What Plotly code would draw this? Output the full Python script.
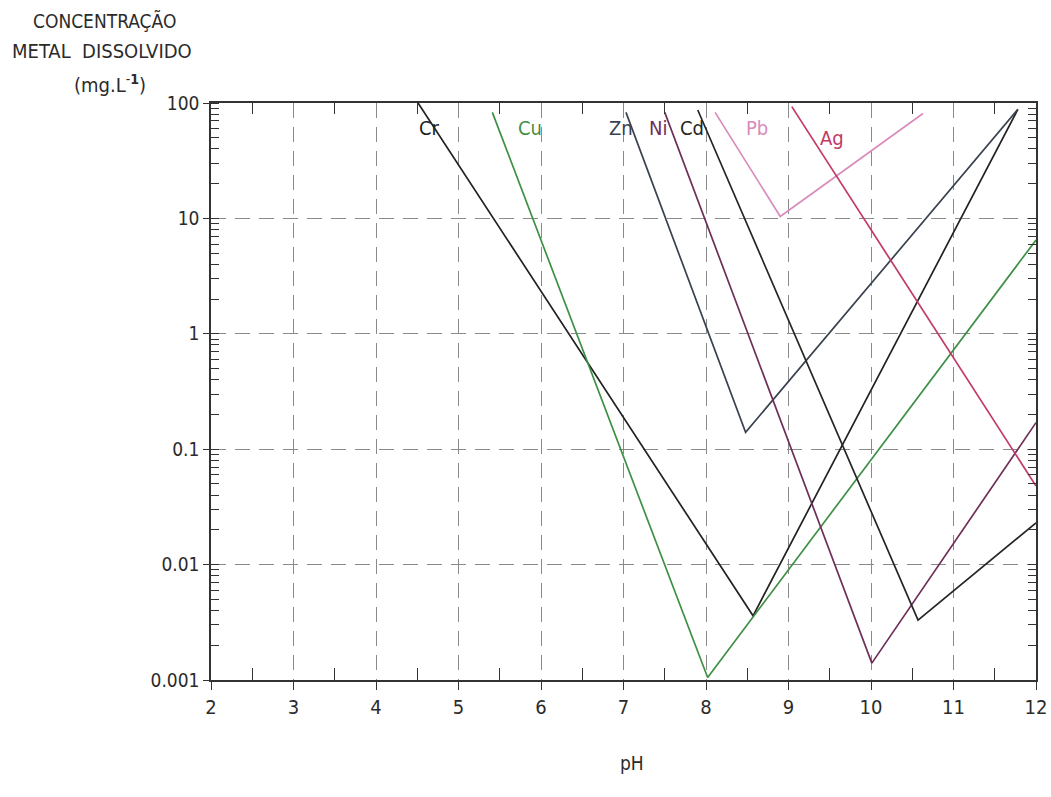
import math
import plotly.graph_objects as go

# ---- data ----
metals = ["Cr", "Cu", "Zn", "Ni", "Cd", "Pb", "Ag"]
ph_cr = [4.51, 8.57, 11.78]
c_cr = [100, 0.0036, 88]
ph_cu = [5.41, 8.02, 12.0]
c_cu = [83, 0.00105, 6.5]
ph_zn = [7.03, 8.48, 11.78]
c_zn = [83, 0.14, 88]
ph_ni = [7.50, 10.01, 12.0]
c_ni = [83, 0.0014, 0.17]
ph_cd = [7.90, 10.57, 12.0]
c_cd = [87, 0.0033, 0.023]
ph_pb = [8.11, 8.90, 10.63]
c_pb = [83, 10.4, 81]
ph_ag = [9.04, 12.0]
c_ag = [93, 0.048]

x_ticks = [2, 3, 4, 5, 6, 7, 8, 9, 10, 11, 12]
x_half_ticks = [2.5, 3.5, 4.5, 5.5, 6.5, 7.5, 8.5, 9.5, 10.5, 11.5]
y_ticks = [0.001, 0.01, 0.1, 1, 10, 100]
y_tick_text = ["0.001", "0.01", "0.1", "1", "10", "100"]

label_ph = [4.65, 5.87, 6.97, 7.42, 7.83, 8.62, 9.53]
label_c = [61, 61, 61, 61, 61, 61, 50]

colors = {
    "Cr": "#222222", "Cu": "#3f8f45", "Zn": "#3a4250", "Ni": "#6e2f58",
    "Cd": "#262626", "Pb": "#d98cbc", "Ag": "#c13a66",
}
series = {
    "Cr": (ph_cr, c_cr), "Cu": (ph_cu, c_cu), "Zn": (ph_zn, c_zn),
    "Ni": (ph_ni, c_ni), "Cd": (ph_cd, c_cd), "Pb": (ph_pb, c_pb),
    "Ag": (ph_ag, c_ag),
}

FONT = "Liberation Sans Narrow, DejaVu Sans Condensed, Arial Narrow, sans-serif"
TXT = "#2b2b2b"

fig = go.Figure()
for m in metals:
    xs, ys = series[m]
    fig.add_trace(go.Scatter(x=xs, y=ys, mode="lines", name=m,
                             line=dict(color=colors[m], width=1.7),
                             showlegend=False, hoverinfo="skip"))

for m, lx, ly in zip(metals, label_ph, label_c):
    fig.add_annotation(x=lx, y=math.log10(ly), yref="y", xref="x", text=m,
                       showarrow=False,
                       font=dict(family=FONT, size=20, color=colors[m]),
                       xanchor="center", yanchor="middle")

# invisible trace to activate the mirror axes
fig.add_trace(go.Scatter(x=[2, 12], y=[0.001, 100], xaxis="x2", yaxis="y2",
                         mode="markers", marker=dict(opacity=0), showlegend=False,
                         hoverinfo="skip"))

W, H = 1051, 797
L, T = 211, 103
PW, PH = 825, 577
R = W - L - PW
B = H - T - PH

axis_color = "#333333"
fig.update_layout(
    width=W, height=H,
    margin=dict(l=L, r=R, t=T, b=B, autoexpand=False),
    paper_bgcolor="white", plot_bgcolor="white",
    font=dict(family=FONT, size=19, color=TXT),
    xaxis=dict(
        range=[2, 12], tickvals=x_ticks, ticks="outside", ticklen=8,
        tickcolor=axis_color, tickwidth=1.3, automargin=False,
        showline=True, linecolor=axis_color, linewidth=1.5,
        showgrid=True, gridcolor="#8a8a8a", gridwidth=1.3, griddash="15px,9px",
        zeroline=False, ticklabelstandoff=0, ticklabeloverflow="allow",
        tickfont=dict(family=FONT, size=20, color=TXT),
        minor=dict(tickvals=x_half_ticks, ticks="inside", ticklen=12,
                   tickcolor=axis_color, showgrid=False),
    ),
    yaxis=dict(
        type="log", range=[-3, 2], tickvals=y_ticks, ticktext=y_tick_text,
        ticks="outside", ticklen=6, tickcolor=axis_color, automargin=False,
        showline=True, linecolor=axis_color, linewidth=1.5,
        showgrid=True, gridcolor="#8a8a8a", gridwidth=1.3, griddash="15px,9px",
        zeroline=False, ticklabelstandoff=0,
        tickfont=dict(family=FONT, size=19, color=TXT),
        minor=dict(dtick="D1", ticks="inside", ticklen=8, tickcolor=axis_color,
                   showgrid=False),
    ),
    xaxis2=dict(
        range=[2, 12], overlaying="x", side="top", showticklabels=False,
        tickvals=x_half_ticks, ticks="inside", ticklen=11, tickcolor=axis_color,
        showline=True, linecolor=axis_color, linewidth=1.5, automargin=False,
        showgrid=False, zeroline=False,
    ),
    yaxis2=dict(
        type="log", range=[-3, 2], overlaying="y", side="right",
        showticklabels=False, tickvals=y_ticks, ticks="inside", ticklen=8,
        tickcolor=axis_color, showline=True, linecolor=axis_color, linewidth=1.5,
        showgrid=False, zeroline=False, automargin=False,
        minor=dict(dtick="D1", ticks="inside", ticklen=8, tickcolor=axis_color,
                   showgrid=False),
    ),
)


def paper(xp, yp):
    """page pixel -> paper coords"""
    return (xp - L) / PW, 1 - (yp - T) / PH


for txt, xp, yp, fs in [("CONCENTRAÇÃO", 104, 21, 19),
                        ("METAL  DISSOLVIDO", 102, 51, 20),
                        ("(mg.L<sup>-<b>1</b></sup>)", 110, 84, 20)]:
    xx, yy = paper(xp, yp)
    fig.add_annotation(x=xx, y=yy, xref="paper", yref="paper", text=txt,
                       showarrow=False, xanchor="center", yanchor="middle",
                       font=dict(family=FONT, size=fs, color=TXT))

xx, yy = paper(632, 763)
fig.add_annotation(x=xx, y=yy, xref="paper", yref="paper", text="pH",
                   showarrow=False, xanchor="center", yanchor="middle",
                   font=dict(family=FONT, size=19, color=TXT))

fig.write_html(
    "out.html",
    config={"displayModeBar": False},
    post_script="document.body.style.margin='0';document.body.style.overflow='hidden';",
)
